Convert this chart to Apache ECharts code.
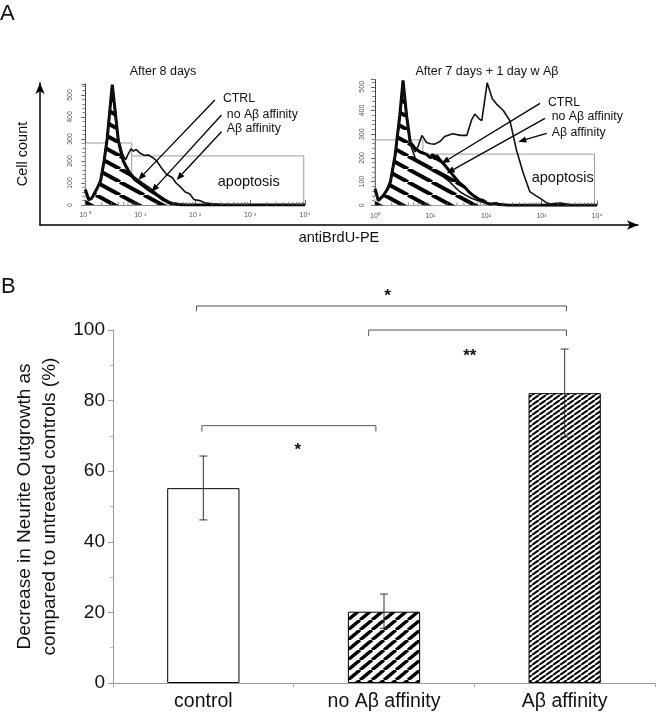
<!DOCTYPE html>
<html><head><meta charset="utf-8">
<script src="https://cdn.jsdelivr.net/npm/echarts@6/dist/echarts.min.js"></script>
<style>html,body{margin:0;padding:0;background:#fff}#c{width:656px;height:719px}</style>
</head><body><div id="c"></div>
<script>
// ---------- Panel A : histograms (x = antiBrdU-PE, y = cell count) ----------
const leftCtrl = [[1,70],[1.15,25],[1.3,30],[1.6,70],[1.9,110],[2.2,200],[2.5,300],[2.8,430],[3.1,547],[3.5,425],[4,290],[4.9,200],[6.5,140],[8,115],[11,90],[15,65],[20,45],[27,22],[35,8],[50,2],[70,0],[10000,0]];
const leftNoAffinity = [[1,60],[1.15,20],[1.3,28],[1.6,68],[1.9,112],[2.2,205],[2.5,310],[2.8,440],[3.1,540],[3.5,410],[4,285],[5,200],[6.5,150],[8,125],[11,100],[15,78],[20,52],[27,30],[35,13],[50,4],[80,0],[10000,0]];
const leftAffinity = [[1,65],[1.15,22],[1.3,30],[1.6,70],[1.9,112],[2.2,205],[2.5,305],[2.8,432],[3.1,545],[3.5,420],[4,300],[4.8,230],[5.4,205],[6,230],[6.8,255],[7.5,245],[8.5,252],[10,235],[12,225],[14,228],[17,215],[20,200],[25,165],[30,140],[38,125],[45,100],[55,80],[65,60],[80,50],[95,25],[120,20],[150,10],[200,5],[300,2],[400,0],[10000,0]];
const rightCtrl = [[1,70],[1.15,20],[1.4,40],[1.7,70],[1.9,100],[2.3,210],[2.8,380],[3.2,527],[3.7,380],[4.3,267],[5.3,240],[6.5,225],[8.5,215],[10,200],[11,215],[12,195],[13,210],[15,190],[18,170],[22,145],[27,120],[33,95],[40,80],[50,55],[60,40],[75,25],[90,20],[100,10],[120,5],[150,8],[180,3],[250,0],[10000,0]];
const rightNoAffinity = [[1,60],[1.15,18],[1.5,50],[1.9,100],[2.3,200],[2.8,370],[3.2,515],[3.7,370],[4.3,260],[5.3,200],[6.5,175],[8,165],[10,150],[13,135],[17,120],[22,100],[28,75],[35,55],[45,40],[55,30],[70,20],[90,12],[110,8],[150,5],[200,0],[10000,0]];
const rightAffinity = [[1,65],[1.15,20],[1.5,50],[1.9,100],[2.3,205],[2.8,375],[3.2,520],[3.7,380],[4.3,270],[5.3,225],[6,250],[7,295],[8.5,265],[10,260],[12,258],[15,270],[18,290],[25,302],[35,295],[45,295],[55,360],[63,385],[75,365],[84,357],[105,517],[130,450],[155,427],[205,400],[270,357],[355,232],[470,135],[615,58],[800,40],[940,30],[1200,12],[1420,5],[1800,8],[2200,10],[3000,4],[4000,0],[10000,0]];
const gateLeft1 = [[1,0],[1,282],[7,282],[7,0]];
const gateLeft2 = [[7,223],[9500,223],[9500,0]];
const gateRight1 = [[1,0],[1,276],[7.3,276],[7.3,0]];
const gateRight2 = [[7.3,216],[9000,216],[9000,0]];
const histMinorTicks = [2,3,4,5,6,7,8,9,20,30,40,50,60,70,80,90,200,300,400,500,600,700,800,900,2000,3000,4000,5000,6000,7000,8000,9000];
const leftLogLabels = {1:'10 \u2070',10:'10 \u00b9',100:'10 \u00b2',1000:'10 \u00b3',10000:'10\u2074'};
const rightLogLabels = {1:'10\u2070',10:'10\u00b9',100:'10\u00b2',1000:'10\u00b3',10000:'10\u2074'};
const annotLeft = [
  {label:'CTRL', at:[321,482], from:[229,477], to:[9.2,114]},
  {label:'no A\u03b2 affinity', at:[377,409], from:[302,409], to:[16,60]},
  {label:'A\u03b2 affinity', at:[377,345], from:[302,333], to:[46,114]},
  {label:'apoptosis', at:[258,105], big:true}
];
const annotRight = [
  {label:'CTRL', at:[1309,433], from:[940,430], to:[15.9,177]},
  {label:'no A\u03b2 affinity', at:[1528,374], from:[1156,367], to:[19.6,135]},
  {label:'A\u03b2 affinity', at:[1528,306], from:[1241,304], to:[382,268]},
  {label:'apoptosis', at:[666,115], big:true}
];

// ---------- Panel B : bar chart ----------
const categories = ['control','no A\u03b2 affinity','A\u03b2 affinity'];
const means = [55.2, 20.2, 82.1];
const errLow = [46.2, 15.5, 69.7];
const errHigh = [64.3, 25.2, 94.6];
const brackets = [[-0.038, 2.01, 106.8, 105.3],[0.915, 2.01, 100, 98.3],[-0.008, 0.955, 72.9, 71.2]];
const stars = [[1.02, 109.5, '*'],[1.475, 92.5, '**'],[0.523, 65.8, '*']];

const FONT = '"Liberation Sans", Arial, sans-serif';

function stripes(W, H, lw, dir){
  const c = document.createElement('canvas'); c.width = W; c.height = H;
  const g = c.getContext('2d'); g.fillStyle = '#fff'; g.fillRect(0,0,W,H);
  g.strokeStyle = '#000'; g.lineWidth = lw;
  for (let k=-1;k<=1;k++){
    g.beginPath();
    if (dir === 'back'){ g.moveTo(k*W,0); g.lineTo(k*W+W,H); }
    else { g.moveTo(k*W,H); g.lineTo(k*W+W,0); }
    g.stroke();
  }
  return {image: c, repeat: 'repeat'};
}
const hatchHist = stripes(24, 13, 4, 'back');
const hatchWide = stripes(12, 10, 3.4, 'fwd');
const hatchFine = stripes(7, 5, 2, 'fwd');

function annotRender(list){
  return function(params, api){
    const a = list[params.dataIndex];
    const children = [];
    const t = api.coord(a.at);
    if (a.from){
      const p1 = api.coord(a.from), p2 = api.coord(a.to);
      let dx = p2[0]-p1[0], dy = p2[1]-p1[1]; const L = Math.hypot(dx,dy); dx/=L; dy/=L;
      const bx = p2[0]-dx*8, by = p2[1]-dy*8, nx = -dy, ny = dx;
      children.push({type:'line', shape:{x1:p1[0],y1:p1[1],x2:bx,y2:by}, style:{stroke:'#000', lineWidth:1.3}});
      children.push({type:'polygon', shape:{points:[[p2[0],p2[1]],[bx+nx*3.2,by+ny*3.2],[bx-nx*3.2,by-ny*3.2]]}, style:{fill:'#000'}});
    }
    children.push({type:'text', style:{text:a.label, x:t[0], y:t[1], fill:'#111', font:(a.big?'14.5px ':'12.3px ')+FONT, verticalAlign:'middle'}});
    return {type:'group', children};
  };
}
function minorTickRender(params, api){
  const p = api.coord([histMinorTicks[params.dataIndex], 0]);
  return {type:'line', shape:{x1:p[0], y1:p[1], x2:p[0], y2:p[1]-3}, style:{stroke:'#666', lineWidth:0.8}};
}

const chart = echarts.init(document.getElementById('c'), null, {renderer:'canvas'});

function histY(gi, max, margin){
  return {gridIndex:gi, type:'value', min:0, max:max, interval:100,
    axisLine:{show:true, lineStyle:{color:'#444', width:1}},
    axisTick:{show:true, length:4, lineStyle:{color:'#666'}},
    minorTick:{show:true, splitNumber:5, length:3, lineStyle:{color:'#888'}},
    splitLine:{show:false},
    axisLabel:{rotate:90, fontSize:7, color:'#555', margin:margin, fontFamily:FONT}};
}
function histX(gi, labels){
  return {gridIndex:gi, type:'log', logBase:10, min:1, max:10000,
    axisLine:{show:true, lineStyle:{color:'#888'}},
    axisTick:{show:true, inside:true, length:5, lineStyle:{color:'#666'}},
    splitLine:{show:false}, minorTick:{show:false},
    axisLabel:{fontSize:7, color:'#555', margin:7, fontFamily:FONT, formatter:v=>labels[Math.round(v)]||''}};
}
function histSeries(gi, ctrl, noAff, aff, g1, g2, annots){
  const ax = {xAxisIndex:gi, yAxisIndex:gi};
  return [
    Object.assign({type:'line', data:g1, symbol:'none', lineStyle:{color:'#9a9a9a', width:1}, silent:true, z:1}, ax),
    Object.assign({type:'line', data:g2, symbol:'none', lineStyle:{color:'#9a9a9a', width:1}, silent:true, z:1}, ax),
    Object.assign({type:'line', name:'CTRL', data:ctrl, symbol:'none', lineStyle:{color:'#000', width:3}, areaStyle:{color:hatchHist, opacity:1}, z:2}, ax),
    Object.assign({type:'line', name:'no A\u03b2 affinity', data:noAff, symbol:'none', lineStyle:{color:'#111', width:1.6}, z:3}, ax),
    Object.assign({type:'line', name:'A\u03b2 affinity', data:aff, symbol:'none', lineStyle:{color:'#111', width:1.6}, z:4}, ax),
    Object.assign({type:'custom', data:histMinorTicks.map(v=>[v,0]), renderItem:minorTickRender, clip:false, silent:true, z:5}, ax),
    Object.assign({type:'custom', data:annots.map(a=>a.at), renderItem:annotRender(annots), clip:false, silent:true, z:6}, ax)
  ];
}

const option = {
  animation:false,
  backgroundColor:'#fff',
  textStyle:{fontFamily:FONT},
  grid:[
    {left:85.3, top:84, width:219.7, height:121},
    {left:375, top:79.7, width:222, height:125.6},
    {left:40, top:83, width:598, height:142},
    {left:113, top:330, width:542, height:353}
  ],
  xAxis:[
    histX(0, leftLogLabels),
    histX(1, rightLogLabels),
    {gridIndex:2, type:'value', min:0, max:1, axisLine:{show:true, symbol:['none','arrow'], symbolSize:[7,11], lineStyle:{color:'#000', width:1.5}},
      axisTick:{show:false}, axisLabel:{show:false}, splitLine:{show:false},
      name:'antiBrdU-PE', nameLocation:'middle', nameGap:5, nameTextStyle:{fontSize:14.5, color:'#111', fontFamily:FONT, verticalAlign:'top'}},
    {gridIndex:3, type:'category', data:categories,
      axisLine:{show:true, lineStyle:{color:'#999'}},
      axisTick:{show:true, length:4, lineStyle:{color:'#aaa'}},
      axisLabel:{fontSize:19.5, color:'#111', margin:9, fontFamily:FONT}}
  ],
  yAxis:[
    histY(0, 550, 12),
    histY(1, 530, 9),
    {gridIndex:2, type:'value', min:0, max:1, axisLine:{show:true, symbol:['none','arrow'], symbolSize:[7,11], lineStyle:{color:'#000', width:1.5}},
      axisTick:{show:false}, axisLabel:{show:false}, splitLine:{show:false},
      name:'Cell count', nameLocation:'middle', nameGap:10, nameRotate:90, nameTextStyle:{fontSize:14.5, color:'#111', fontFamily:FONT}},
    {gridIndex:3, type:'value', min:0, max:100, interval:20,
      axisLine:{show:true, lineStyle:{color:'#999'}},
      axisTick:{show:true, length:5, lineStyle:{color:'#999'}},
      minorTick:{show:true, splitNumber:2, length:3, lineStyle:{color:'#bbb'}},
      splitLine:{show:false},
      axisLabel:{fontSize:19, color:'#111', margin:8, fontFamily:FONT},
      name:'Decrease in Neurite Outgrowth as\ncompared to untreated controls (%)', nameLocation:'middle', nameGap:48, nameRotate:90,
      nameTextStyle:{fontSize:19, lineHeight:25, color:'#111', fontFamily:FONT}}
  ],
  graphic:[
    {type:'text', x:0, y:14, style:{text:'A', font:'22px '+FONT, fill:'#111', verticalAlign:'middle'}},
    {type:'text', x:1, y:287, style:{text:'B', font:'22px '+FONT, fill:'#111', verticalAlign:'middle'}},
    {type:'text', x:163, y:72, style:{text:'After 8 days', font:'12.5px '+FONT, fill:'#111', align:'center', verticalAlign:'middle'}},
    {type:'text', x:487, y:72, style:{text:'After 7 days + 1 day w A\u03b2', font:'12.5px '+FONT, fill:'#111', align:'center', verticalAlign:'middle'}}
  ],
  series:[]
};
option.series = option.series.concat(
  histSeries(0, leftCtrl, leftNoAffinity, leftAffinity, gateLeft1, gateLeft2, annotLeft),
  histSeries(1, rightCtrl, rightNoAffinity, rightAffinity, gateRight1, gateRight2, annotRight)
);
option.series.push(
  {type:'bar', xAxisIndex:3, yAxisIndex:3, barWidth:'40%',
   data:means.map((v,i)=>({value:v, itemStyle:{color:[ '#fff', hatchWide, hatchFine ][i], borderColor:'#000', borderWidth:1}}))},
  {type:'custom', xAxisIndex:3, yAxisIndex:3, clip:false, silent:true, z:5,
   data:means.map((v,i)=>[i, errLow[i], errHigh[i]]),
   renderItem:function(params, api){
     const lo = api.coord([api.value(0), api.value(1)]), hi = api.coord([api.value(0), api.value(2)]);
     const w = 4, st = {stroke:'#333', lineWidth:1};
     return {type:'group', children:[
       {type:'line', shape:{x1:lo[0],y1:lo[1],x2:hi[0],y2:hi[1]}, style:st},
       {type:'line', shape:{x1:hi[0]-w,y1:hi[1],x2:hi[0]+w,y2:hi[1]}, style:st},
       {type:'line', shape:{x1:lo[0]-w,y1:lo[1],x2:lo[0]+w,y2:lo[1]}, style:st}
     ]};
   }},
  {type:'custom', xAxisIndex:3, yAxisIndex:3, clip:false, silent:true, z:5,
   data:brackets.map(b=>[0, b[2]]),
   renderItem:function(params, api){
     const b = brackets[params.dataIndex];
     const c0 = api.coord([0, b[2]]), bw = api.size([1,0])[0];
     const yb = api.coord([0, b[3]])[1];
     const x1 = c0[0] + b[0]*bw, x2 = c0[0] + b[1]*bw, y = c0[1];
     const st = {stroke:'#555', lineWidth:1, fill:null};
     return {type:'polyline', shape:{points:[[x1,yb],[x1,y],[x2,y],[x2,yb]]}, style:st};
   }},
  {type:'custom', xAxisIndex:3, yAxisIndex:3, clip:false, silent:true, z:6,
   data:stars.map(s=>[0, s[1]]),
   renderItem:function(params, api){
     const s = stars[params.dataIndex];
     const c0 = api.coord([0, s[1]]), bw = api.size([1,0])[0];
     return {type:'text', style:{text:s[2], x:c0[0]+s[0]*bw, y:c0[1], font:'bold 17px '+FONT, fill:'#111', align:'center', verticalAlign:'middle'}};
   }}
);
chart.setOption(option);
</script></body></html>
